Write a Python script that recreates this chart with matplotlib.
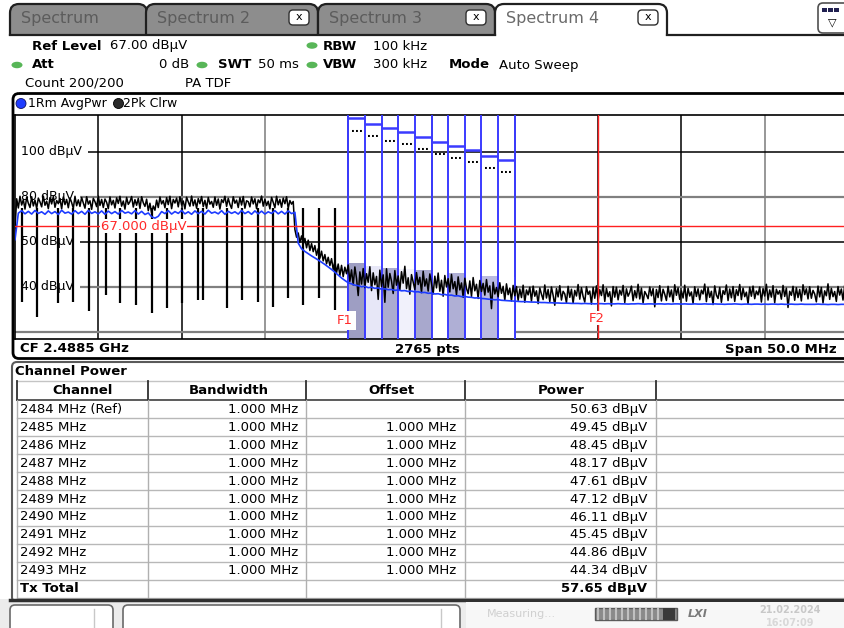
import matplotlib.pyplot as plt
import numpy as np
from matplotlib.patches import Ellipse, FancyBboxPatch, Rectangle

plt.rcParams["font.family"] = ["DejaVu Sans"]

# sweep: CF 2.4885 GHz, span 50 MHz
START_MHZ = 2463.5
STOP_MHZ = 2513.5
PEAK_STEP_MHZ = 0.1
AVG_STEP_MHZ = 0.2
Y_MIN, Y_MAX = 16.9, 116.4

# 2Pk Clrw trace (dBuV), decimated to 0.1 MHz
peak_db = [
    66.0, 79.2, 75.1, 80.3, 76.4, 78.8, 74.6, 79.9, 77.2, 75.3,
    80.1, 76.0, 78.6, 74.9, 79.5, 77.8, 75.6, 80.4, 76.3, 78.1,
    74.8, 79.7, 76.9, 80.2, 75.4, 78.4, 77.0, 79.3, 74.7, 80.0,
    76.6, 78.9, 75.2, 79.6, 77.5, 74.9, 80.3, 76.1, 78.7, 75.8,
    79.8, 77.3, 75.0, 80.1, 76.8, 78.3, 74.5, 79.4, 77.9, 75.7,
    80.4, 76.2, 78.9, 75.3, 79.1, 77.6, 74.8, 80.0, 76.5, 78.5,
    75.1, 79.6, 77.1, 80.3, 75.9, 78.2, 74.6, 79.8, 76.7, 77.9,
    80.2, 75.5, 78.8, 76.3, 79.4, 74.9, 80.1, 77.4, 75.8, 79.0,
    73.9, 77.2, 72.8, 76.0, 74.1, 78.6, 75.3, 80.0, 76.9, 78.4,
    75.2, 79.7, 76.6, 80.3, 74.8, 78.9, 77.3, 79.5, 75.6, 80.1,
    76.4, 78.2, 74.7, 79.9, 77.8, 75.9, 80.4, 76.1, 78.7, 75.0,
    79.3, 77.0, 80.2, 75.7, 78.5, 74.9, 79.8, 76.8, 78.0, 75.4,
    80.0, 76.3, 79.1, 74.6, 78.8, 77.5, 80.3, 75.8, 79.4, 76.7,
    74.9, 80.1, 77.2, 78.6, 75.3, 79.7, 76.4, 80.2, 75.0, 78.3,
    77.9, 75.6, 80.0, 76.9, 79.2, 74.8, 78.7, 77.4, 80.4, 75.9,
    79.0, 76.2, 78.1, 74.7, 79.8, 77.6, 75.2, 80.3, 76.5, 78.9,
    75.4, 79.5, 77.0, 80.1, 74.9, 78.4, 76.8, 78.0, 65.5, 62.1,
    64.0, 59.8, 62.7, 58.9, 61.6, 57.4, 60.8, 56.2, 59.3, 55.7,
    58.4, 54.1, 57.0, 52.8, 55.9, 51.6, 54.4, 50.3, 53.2, 49.5,
    52.6, 47.8, 51.4, 46.3, 50.2, 45.1, 49.6, 44.6, 48.8, 45.9,
    49.8, 42.5, 47.6, 40.9, 48.9, 43.8, 36.2, 46.7, 41.3, 48.2,
    39.7, 45.9, 42.1, 49.0, 38.4, 46.3, 41.0, 44.7, 34.5, 47.5,
    40.2, 45.4, 33.2, 48.1, 39.9, 46.0, 42.6, 37.1, 47.3, 40.8,
    44.9, 38.6, 46.8, 41.7, 49.2, 39.3, 44.1, 36.8, 45.5, 42.2,
    38.9, 46.4, 41.1, 44.3, 37.5, 47.0, 40.4, 43.6, 38.2, 45.8,
    41.5, 36.9, 44.8, 39.6, 46.2, 38.1, 43.0, 35.9, 45.1, 40.0,
    43.7, 37.8, 45.6, 39.2, 42.4, 36.5, 44.5, 38.7, 41.8, 35.4,
    43.9, 39.4, 37.0, 42.7, 35.8, 44.2, 38.3, 41.2, 34.9, 42.9,
    38.0, 41.6, 36.4, 43.3, 37.7, 40.5, 30.4, 42.1, 36.9, 39.8,
    35.6, 41.9, 37.2, 40.3, 34.1, 41.4, 36.6, 39.5, 33.8, 40.7,
    36.1, 40.2, 34.0, 39.1, 35.3, 40.8, 33.2, 38.7, 36.5, 39.9,
    33.7, 40.4, 35.9, 38.3, 32.6, 39.6, 36.8, 34.4, 40.9, 35.1,
    38.9, 33.5, 40.0, 36.3, 31.9, 39.3, 35.6, 40.6, 34.2, 38.1,
    36.9, 33.0, 40.3, 35.4, 39.0, 32.8, 38.5, 36.0, 41.1, 34.6,
    39.7, 35.8, 33.3, 40.1, 36.7, 38.2, 32.4, 39.8, 35.0, 40.5,
    34.1, 38.8, 36.2, 41.0, 33.6, 39.4, 35.7, 37.9, 31.6, 40.2,
    35.5, 39.9, 34.3, 38.6, 36.4, 40.7, 33.1, 39.2, 35.9, 37.6,
    40.4, 33.9, 38.4, 35.2, 41.2, 34.7, 39.5, 32.9, 38.0, 36.6,
    34.8, 40.0, 36.1, 39.3, 31.2, 38.9, 35.3, 40.6, 33.8, 39.0,
    36.8, 34.0, 40.3, 35.6, 38.7, 33.4, 41.0, 36.3, 39.6, 34.5,
    38.3, 35.1, 40.8, 33.7, 39.4, 36.0, 37.8, 32.7, 40.1, 35.8,
    39.2, 34.3, 38.6, 36.9, 41.3, 33.5, 39.7, 35.4, 38.1, 32.2,
    40.5, 36.4, 34.9, 39.8, 33.2, 38.4, 36.7, 40.9, 34.0, 39.1,
    35.2, 40.2, 33.6, 38.8, 36.2, 41.1, 34.4, 39.5, 35.7, 37.7,
    32.5, 39.9, 35.9, 40.4, 34.8, 38.2, 36.5, 40.0, 33.3, 39.3,
    36.0, 41.2, 34.2, 38.7, 35.5, 40.6, 33.0, 39.0, 36.8, 38.4,
    34.6, 40.7, 35.8, 39.5, 30.9, 38.1, 36.3, 40.3, 34.1, 39.7,
    35.3, 38.9, 33.8, 41.0, 36.6, 39.2, 34.7, 40.1, 35.0, 38.5,
    36.9, 33.4, 40.4, 35.6, 39.8, 32.9, 38.3, 36.1, 41.4, 34.5,
    39.4, 35.7, 38.0, 33.6, 40.2, 36.4, 39.1, 34.2, 40.8, 35.9,
    38.6,
]

# 1Rm AvgPwr trace (dBuV), 0.2 MHz steps
avg_db = [
    61.0, 72.8, 73.9, 72.5, 73.6, 72.4, 74.0, 72.7, 73.4, 72.3,
    73.8, 72.6, 73.5, 72.2, 74.1, 72.8, 73.3, 72.4, 73.9, 72.6,
    73.6, 72.3, 74.0, 72.7, 73.4, 72.5, 73.8, 72.3, 73.7, 72.6,
    73.5, 72.4, 74.0, 72.8, 73.3, 72.5, 73.9, 72.4, 73.6, 72.2,
    72.9, 71.2, 70.6, 71.4, 73.5, 72.6, 73.9, 72.4, 73.5, 72.7,
    74.0, 72.5, 73.4, 72.3, 73.8, 72.6, 73.6, 72.4, 74.1, 72.8,
    73.3, 72.5, 73.9, 72.3, 73.6, 72.7, 73.4, 72.4, 74.0, 72.6,
    73.5, 72.3, 73.8, 72.5, 73.7, 72.4, 73.4, 72.7, 73.9, 72.5,
    73.6, 72.4, 73.8, 72.6, 73.2, 59.5, 57.0, 55.8, 54.8, 53.8,
    52.9, 52.0, 51.0, 50.0, 48.9, 47.8, 46.6, 45.3, 44.0, 42.9,
    41.9, 41.4, 40.8, 40.6, 40.1, 40.3, 39.7, 39.9, 39.4, 39.6,
    39.0, 39.2, 38.8, 38.9, 38.5, 38.7, 38.3, 38.4, 38.0, 38.2,
    37.8, 37.9, 37.5, 37.6, 37.2, 37.3, 36.9, 37.0, 36.6, 36.7,
    36.3, 36.4, 36.0, 36.1, 35.7, 35.8, 35.5, 35.4, 35.1, 35.2,
    34.9, 34.8, 34.6, 34.5, 34.3, 34.4, 34.1, 34.0, 33.9, 33.8,
    33.7, 33.6, 33.5, 33.5, 33.4, 33.3, 33.3, 33.2, 33.1, 33.1,
    33.0, 33.0, 32.9, 32.9, 32.8, 32.8, 32.8, 32.7, 32.7, 32.7,
    32.6, 32.7, 32.6, 32.6, 32.5, 32.6, 32.6, 32.5, 32.6, 32.5,
    32.5, 32.6, 32.5, 32.5, 32.4, 32.5, 32.5, 32.6, 32.5, 32.4,
    32.5, 32.5, 32.4, 32.5, 32.5, 32.4, 32.5, 32.4, 32.5, 32.5,
    32.4, 32.5, 32.4, 32.4, 32.5, 32.4, 32.4, 32.5, 32.4, 32.4,
    32.5, 32.4, 32.4, 32.3, 32.4, 32.4, 32.5, 32.4, 32.3, 32.4,
    32.4, 32.3, 32.4, 32.4, 32.3, 32.4, 32.3, 32.4, 32.4, 32.3,
    32.4, 32.3, 32.3, 32.4, 32.3, 32.3, 32.4, 32.3, 32.3, 32.3,
    32.3, 32.4, 32.3, 32.3, 32.2, 32.3, 32.3, 32.2, 32.3, 32.3,
    32.3,
]

# narrow drop-outs in the peak trace (burst gaps)
dip_freqs = [2463.90, 2464.80, 2466.10, 2467.00, 2467.96, 2468.94, 2469.80,
             2470.76, 2471.70, 2472.60, 2473.50, 2474.46, 2474.80, 2476.20,
             2477.10, 2478.06, 2478.96, 2479.90, 2480.80, 2481.74, 2482.70]
dip_db = [33.5, 26.8, 32.7, 33.5, 29.3, 36.4, 32.7,
          32.0, 28.3, 30.5, 32.7, 34.2, 34.2, 30.5,
          34.2, 33.5, 31.3, 35.0, 32.0, 35.0, 29.8]

# channel power table
channel_names = ["2484 MHz (Ref)", "2485 MHz", "2486 MHz", "2487 MHz", "2488 MHz",
                 "2489 MHz", "2490 MHz", "2491 MHz", "2492 MHz", "2493 MHz"]
channel_mhz = [2484, 2485, 2486, 2487, 2488, 2489, 2490, 2491, 2492, 2493]
bandwidths = ["1.000 MHz"] * 10
offsets = [""] + ["1.000 MHz"] * 9
powers = [50.63, 49.45, 48.45, 48.17, 47.61, 47.12, 46.11, 45.45, 44.86, 44.34]
tx_total = 57.65
# power bar markers drawn at the top of each channel
bar_marks = [115.0, 112.4, 110.5, 108.8, 106.8, 104.4, 102.7, 100.8, 98.4, 96.4]

grid_levels = [100, 80, 60, 40, 20]
level_labels = ["100 dBµV", "80 dBµV", "50 dBµV", "40 dBµV", ""]
ref_level = 67.0
f1_mhz = 2483.5
f2_mhz = 2498.5

channel_fill = ["#9e9ec3", "#e7e7f7", "#acacd1", "#f1f1fb", "#a8a8cd",
                "#ffffff", "#afafd5", "#ffffff", "#babae1", "#ffffff"]


def draw_tabs(ui):
    tabs = [("Spectrum", 10, 147, False), ("Spectrum 2", 146, 318, True),
            ("Spectrum 3", 318, 495, True), ("Spectrum 4", 495, 667, True)]
    for i, (label, x0, x1, closable) in enumerate(tabs):
        active = i == len(tabs) - 1
        ui.add_patch(FancyBboxPatch((x0, 4), x1 - x0, 50,
                                    boxstyle="round,pad=0,rounding_size=9",
                                    fc="white" if active else "#8d8d8d",
                                    ec="#202020", lw=1.6, zorder=1))
        ui.text(x0 + 11, 19, label, fontsize=11.5, va="center", ha="left",
                color="#6a6a6a" if active else "#5c5c5c", zorder=3)
        if closable:
            ui.add_patch(FancyBboxPatch((x1 - 29, 10), 20, 15,
                                        boxstyle="round,pad=0,rounding_size=4",
                                        fc="white", ec="#303030", lw=1, zorder=3))
            ui.text(x1 - 19, 17, "x", fontsize=8, ha="center", va="center", zorder=4)
    ui.add_patch(Rectangle((0, 35.6), 844, 25, fc="white", ec="none", zorder=2))
    ui.plot([10, 495], [35, 35], color="#202020", lw=1.6, zorder=2)
    ui.plot([667, 844], [35, 35], color="#202020", lw=1.6, zorder=2)

    # menu icon top right
    ui.add_patch(FancyBboxPatch((818, 3), 40, 30, boxstyle="round,pad=0,rounding_size=5",
                                fc="white", ec="#505050", lw=1.2, zorder=3))
    for dx in (0, 6, 12):
        ui.add_patch(Rectangle((822 + dx, 8), 5, 4, fc="#202050", ec="none", zorder=4))
    ui.text(832, 22, "▽", fontsize=8, ha="center", va="center", zorder=4)


def draw_header(ui):
    dot = "#58b658"
    for x, y in [(17, 65), (202, 65), (312, 45.5), (312, 65)]:
        ui.add_patch(Ellipse((x, y), 11, 6.5, fc=dot, ec="none", zorder=3))
    bold_items = [("Ref Level", 32, 46), ("Att", 32, 65), ("SWT", 218, 65),
                  ("RBW", 323, 46), ("VBW", 323, 65), ("Mode", 449, 65)]
    for s, x, y in bold_items:
        ui.text(x, y, s, fontsize=9.5, fontweight="bold", va="center", ha="left")
    plain_items = [("67.00 dBµV", 110, 46), ("50 ms", 258, 65), ("100 kHz", 373, 46),
                   ("300 kHz", 373, 65), ("Auto Sweep", 499, 65),
                   ("Count 200/200", 25, 83.5), ("PA TDF", 185, 83.5)]
    for s, x, y in plain_items:
        ui.text(x, y, s, fontsize=9.5, va="center", ha="left")
    ui.text(189, 65, "0 dB", fontsize=9.5, va="center", ha="right")

    # diagram window
    ui.add_patch(FancyBboxPatch((13, 93.5), 900, 265, boxstyle="round,pad=0,rounding_size=6",
                                fc="none", ec="black", lw=2, zorder=3))
    ui.add_patch(Ellipse((21, 103.5), 10, 10, fc="#1f3cff", ec="#101060", lw=0.6))
    ui.text(28, 103.5, "1Rm AvgPwr", fontsize=9, va="center", ha="left")
    ui.add_patch(Ellipse((118.5, 103.5), 10, 10, fc="#2a2a2a", ec="black", lw=0.6))
    ui.text(123, 103.5, "2Pk Clrw", fontsize=9, va="center", ha="left")

    ui.text(20, 349, "CF 2.4885 GHz", fontsize=9.5, fontweight="bold", va="center")
    ui.text(427, 349, "2765 pts", fontsize=9.5, fontweight="bold", va="center", ha="center")
    ui.text(837, 349, "Span 50.0 MHz", fontsize=9.5, fontweight="bold", va="center", ha="right")


def draw_spectrum(ax):
    peak_freqs = START_MHZ + PEAK_STEP_MHZ * np.arange(len(peak_db))
    avg_freqs = START_MHZ + AVG_STEP_MHZ * np.arange(len(avg_db))

    ax.set_xlim(START_MHZ, STOP_MHZ)
    ax.set_ylim(Y_MIN, Y_MAX)
    ax.set_xticks([])
    ax.set_yticks([])
    ax.spines["right"].set_visible(False)
    for side in ("left", "top", "bottom"):
        ax.spines[side].set_color("black")
        ax.spines[side].set_linewidth(1.2)

    # graticule
    for k in range(1, 10):
        ax.axvline(START_MHZ + 5 * k, color="#7a7a7a" if k in (3, 9) else "black",
                   lw=1.1, zorder=1)
    for level, label in zip(grid_levels, level_labels):
        gray = level in (80, 40, 20)
        ax.axhline(level, color="#808080" if gray else "black",
                   lw=1.6 if gray else 1.1, zorder=1)
        if label:
            ax.text(START_MHZ + 0.35, level, label, fontsize=9, va="center", ha="left",
                    zorder=2, bbox=dict(fc="white", ec="none", pad=4.5))

    # channel power shading and channel edges
    ax.bar(channel_mhz, [p - Y_MIN for p in powers], bottom=Y_MIN, width=1.0,
           color=channel_fill, edgecolor="none", zorder=2)
    edges = sorted({c + s for c in channel_mhz for s in (-0.5, 0.5)})
    ax.vlines(edges, Y_MIN, Y_MAX, color="#3b3bff", lw=1.4, zorder=3)
    ax.hlines(bar_marks, [c - 0.5 for c in channel_mhz], [c + 0.5 for c in channel_mhz],
              color="#3b3bff", lw=1.8, zorder=3)
    for c, level in zip(channel_mhz, bar_marks):
        ax.text(c, level - 4.6, "...", fontsize=7.5, fontweight="bold",
                ha="center", va="center", zorder=3)

    # traces
    ax.plot(peak_freqs, peak_db, color="black", lw=1.1, zorder=4)
    ax.vlines(dip_freqs, dip_db, 75.0, color="black", lw=1.6, zorder=4)
    ax.plot(avg_freqs, avg_db, color="#1e3cff", lw=1.2, zorder=5)

    # reference level and frequency lines
    ax.axhline(ref_level, color="#ff2020", lw=1, zorder=6)
    ax.text(2468.66, ref_level, "67.000 dBµV", fontsize=9.5, color="#ff2a2a",
            va="center", ha="left", zorder=7, bbox=dict(fc="white", ec="none", pad=0.5))
    ax.axvline(f2_mhz, color="#ff2020", lw=1, zorder=6)
    ax.text(f1_mhz - 0.2, 25.0, "F1", fontsize=9.5, color="#ff2a2a", ha="center",
            va="center", zorder=7, bbox=dict(fc="white", ec="none", pad=2))
    ax.text(f2_mhz - 0.1, 26.2, "F2", fontsize=9.5, color="#ff2a2a", ha="center",
            va="center", zorder=7, bbox=dict(fc="white", ec="none", pad=0.5))


def draw_table(ui):
    cols = [16.5, 148, 306, 465, 656]
    row0, row_h = 409.3, 17.95
    top, head_bottom = 381, 399.5
    bottom = row0 + row_h * 10.5

    ui.add_patch(FancyBboxPatch((12, 362), 900, 240, boxstyle="round,pad=0,rounding_size=5",
                                fc="none", ec="#5a5a5a", lw=1.5))
    ui.text(15, 371.5, "Channel Power", fontsize=9.5, fontweight="bold", va="center")
    ui.plot([16.5, 844], [top, top], color="#c4c4c4", lw=1)
    ui.plot([16.5, 844], [head_bottom, head_bottom], color="#404040", lw=1.2)
    for k in range(11):
        y = row0 + row_h * (k + 0.5)
        ui.plot([16.5, 844], [y, y], color="#b8b8b8", lw=1)
    for x in cols:
        ui.plot([x, x], [top, head_bottom], color="#303030", lw=1.3)
        ui.plot([x, x], [head_bottom, bottom], color="#b0b0b0", lw=1)

    for s, x in [("Channel", 82.5), ("Bandwidth", 229), ("Offset", 391), ("Power", 561)]:
        ui.text(x, 390.5, s, fontsize=9.5, fontweight="bold", ha="center", va="center")
    for k in range(len(channel_names)):
        y = row0 + row_h * k
        ui.text(20, y, channel_names[k], fontsize=9.5, va="center", ha="left")
        ui.text(298, y, bandwidths[k], fontsize=9.5, va="center", ha="right")
        ui.text(456, y, offsets[k], fontsize=9.5, va="center", ha="right")
        ui.text(647, y, f"{powers[k]:.2f} dBµV", fontsize=9.5, va="center", ha="right")
    y = row0 + row_h * 10
    ui.text(20, y, "Tx Total", fontsize=9.5, fontweight="bold", va="center")
    ui.text(647, y, f"{tx_total:.2f} dBµV", fontsize=9.5, fontweight="bold",
            va="center", ha="right")


def draw_status(ui):
    ui.add_patch(Rectangle((0, 599), 844, 30, fc="#ececec", ec="none", zorder=1))
    ui.plot([10, 844], [599.5, 599.5], color="#303030", lw=2.5, zorder=2)
    for x0, x1, sep in [(10, 113, 94), (123, 460, 441)]:
        ui.add_patch(FancyBboxPatch((x0, 605), x1 - x0, 30,
                                    boxstyle="round,pad=0,rounding_size=5",
                                    fc="white", ec="#6a6a6a", lw=1.2, zorder=2))
        ui.plot([sep, sep], [609, 628], color="#c8c8c8", lw=1, zorder=3)
    ui.add_patch(Rectangle((466, 602), 380, 27, fc="#f7f7f7", ec="none", zorder=2))
    ui.text(487, 614, "Measuring...", fontsize=8, color="#d0d0d0", va="center", zorder=3)
    ui.add_patch(Rectangle((595, 608), 82, 12, fc="#8a8a8a", ec="#5a5a5a", lw=1, zorder=3))
    for k in range(11):
        ui.plot([598 + 6 * k, 598 + 6 * k], [609, 619], color="#c0c0c0", lw=1.5, zorder=4)
    ui.add_patch(Rectangle((663, 608), 12, 12, fc="#3a3a3a", ec="none", zorder=4))
    ui.text(698, 614, "LXI", fontsize=8, fontweight="bold", style="italic",
            color="#7a7a7a", ha="center", va="center", zorder=3)
    ui.text(790, 610, "21.02.2024", fontsize=7, fontweight="bold", color="#c8c8c8",
            ha="center", va="center", zorder=3)
    ui.text(790, 623, "16:07:09", fontsize=7, fontweight="bold", color="#d8d8d8",
            ha="center", va="center", zorder=3)


def main() -> None:
    fig = plt.figure(figsize=(8.44, 6.28), dpi=100, facecolor="white")

    ui = fig.add_axes([0, 0, 1, 1])
    ui.set_xlim(0, 844)
    ui.set_ylim(628, 0)
    ui.axis("off")

    draw_tabs(ui)
    draw_header(ui)
    draw_table(ui)
    draw_status(ui)

    # plot area spans x 15..848 px, y 115..339 px
    ax = fig.add_axes([15 / 844, (628 - 339) / 628, 833 / 844, 224 / 628])
    draw_spectrum(ax)

    fig.savefig("out.png", dpi=100, facecolor="white")
    plt.close(fig)


if __name__ == "__main__":
    main()
